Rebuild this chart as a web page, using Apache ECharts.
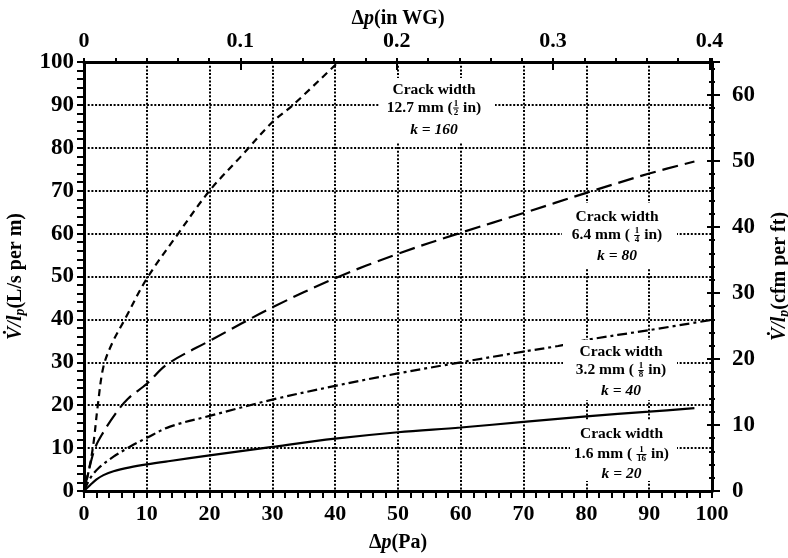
<!DOCTYPE html>
<html><head><meta charset="utf-8">
<script src="https://cdn.jsdelivr.net/npm/echarts@6/dist/echarts.min.js"></script>
<style>html,body{margin:0;padding:0;background:#fff}#c{width:788px;height:558px}</style>
</head><body><div id="c"></div>
<script>
// ---- data ----
const xTicksPa = [0,10,20,30,40,50,60,70,80,90,100];
const xTicksInWG = [0,0.1,0.2,0.3,0.4];
const yTicksLsm = [0,10,20,30,40,50,60,70,80,90,100];
const yTicksCfmFt = [0,10,20,30,40,50,60];

// k = 20 (1.6 mm crack) solid
const dp_k20 = [0, 1, 2, 3.1, 4.7, 7.3, 10, 13.7, 20, 30, 40, 50, 60, 70, 80, 90, 97.2];
const q_k20  = [0, 1.4, 2.7, 3.7, 4.6, 5.5, 6.2, 7.0, 8.3, 10.3, 12.2, 13.7, 14.8, 16.1, 17.4, 18.5, 19.3];
// k = 40 (3.2 mm crack) dash-dot
const dp_k40 = [0, 1, 2.3, 4.7, 7.3, 10, 13.7, 20, 30, 40, 50, 60, 70, 75.5, 80, 90, 100];
const q_k40  = [0, 3, 5.3, 8, 10.3, 12.4, 15, 17.5, 21.3, 24.5, 27.4, 30, 32.5, 33.8, 35.2, 37.5, 39.9];
// k = 80 (6.4 mm crack) long dash
const dp_k80 = [0, 0.8, 1.75, 3, 5, 7, 10, 13.2, 20, 30, 40, 50, 60, 70, 80, 90, 97.2];
const q_k80  = [0, 5, 10, 13.5, 18, 21.5, 25, 29.5, 35, 42.8, 49.6, 55.3, 60.2, 64.8, 69.5, 74, 76.8];
// k = 160 (12.7 mm crack) short dash
const dp_k160 = [0, 0.8, 1.5, 2.2, 3.1, 4.5, 6.5, 10, 15, 20, 25, 30, 33.3, 40.5];
const q_k160  = [0, 5, 11, 20, 29, 34.5, 40, 49.5, 60, 70, 78, 86, 90, 100];

const PA_PER_INWG = 249;
const RIGHT_MAX_CFM = 65;

// ---- chart ----
const SERIF = '"Liberation Serif", "Times New Roman", Times, serif';
const pairs = (xs, ys) => xs.map((x, i) => [x, ys[i]]);
const chart = echarts.init(document.getElementById('c'), null, {renderer: 'canvas'});

const lab = (size, margin, extra) => Object.assign({fontFamily: SERIF, fontWeight: 'bold', fontSize: size, color: '#000', margin: margin}, extra || {});
const axLine = {show: true, onZero: false, lineStyle: {color: '#000', width: 3}};
const noLine = {show: false, onZero: false};
const dotted = {show: true, lineStyle: {color: '#000', width: 2, type: [2, 1.7]}};
const nameStyle = {
  fontFamily: SERIF, fontWeight: 'bold', fontSize: 20, color: '#000',
  rich: {
    a: {fontFamily: SERIF, fontWeight: 'bold', fontSize: 20, color: '#000'},
    i: {fontFamily: SERIF, fontWeight: 'bold', fontStyle: 'italic', fontSize: 20, color: '#000'},
    s: {fontFamily: SERIF, fontWeight: 'bold', fontStyle: 'italic', fontSize: 14, color: '#000', padding: [9, 0, 0, 0]}
  }
};

const series = [
  {d: pairs(dp_k20, q_k20), type: 'solid'},
  {d: pairs(dp_k40, q_k40), type: [10, 4, 3, 4]},
  {d: pairs(dp_k80, q_k80), type: [16, 7]},
  {d: pairs(dp_k160, q_k160), type: [7, 5]}
].map(s => ({
  type: 'line', data: s.d, xAxisIndex: 0, yAxisIndex: 0, showSymbol: false, symbol: 'none',
  smooth: 0.35, clip: true, silent: true,
  lineStyle: {color: '#000', width: 2.2, type: s.type}, z: 3
}));

// ---- annotation boxes ----
const cv = document.createElement('canvas').getContext('2d');
function tw(t, size, fs) { cv.font = (fs || 'normal') + ' bold ' + size + 'px ' + SERIF; return cv.measureText(t).width; }
function txt(x, y, text, align, size, fs) {
  return {type: 'text', x: x, y: y, z: 60, silent: true,
    style: {text: text, fill: '#000', fontFamily: SERIF, fontWeight: 'bold', fontStyle: fs || 'normal', fontSize: size,
            textAlign: align, textVerticalAlign: 'middle', align: align, verticalAlign: 'middle'}};
}
const FS = 15.5, FFS = 9;
function annotation(cx, y1, y2, y3, box, pre, num, den, post, kText) {
  const els = [];
  els.push({type: 'rect', z: 55, silent: true, shape: {x: box[0], y: box[1], width: box[2] - box[0], height: box[3] - box[1]}, style: {fill: '#fff'}});
  els.push(txt(cx, y1, 'Crack width', 'center', FS));
  const wPre = tw(pre, FS), wPost = tw(post, FS), wF = Math.max(tw(num, FFS), tw(den, FFS)) + 2;
  const x0 = cx - (wPre + wF + wPost) / 2;
  const fx = x0 + wPre + wF / 2;
  els.push(txt(x0, y2, pre, 'left', FS));
  els.push(txt(fx, y2 - 4, num, 'center', FFS));
  els.push({type: 'line', z: 60, silent: true, shape: {x1: fx - wF / 2 + 0.5, y1: y2 + 0.5, x2: fx + wF / 2 - 0.5, y2: y2 + 0.5}, style: {stroke: '#000', lineWidth: 1}});
  els.push(txt(fx, y2 + 5, den, 'center', FFS));
  els.push(txt(x0 + wPre + wF, y2, post, 'left', FS));
  els.push(txt(cx, y3, kText, 'center', FS, 'italic'));
  return els;
}
const graphics = [].concat(
  annotation(434, 90, 107.5, 130, [380, 78, 495, 143], '12.7 mm (', '1', '2', ' in)', 'k = 160'),
  annotation(617, 217, 235, 255.5, [562, 203, 677, 268], '6.4 mm ( ', '1', '4', ' in)', 'k = 80'),
  annotation(621, 351.7, 370, 390.5, [563, 340, 677, 400], '3.2 mm ( ', '1', '8', ' in)', 'k = 40'),
  annotation(621.5, 434, 454, 474, [570, 420, 677, 481], '1.6 mm ( ', '1', '16', ' in)', 'k = 20')
);

const gridBox = {left: 84, right: 76, top: 62, bottom: 67, containLabel: false, outerBoundsMode: 'none'};
const option = {
  animation: false,
  backgroundColor: '#fff',
  grid: [Object.assign({}, gridBox), Object.assign({}, gridBox)],
  xAxis: [
    {type: 'value', gridIndex: 0, position: 'bottom', min: xTicksPa[0], max: xTicksPa[xTicksPa.length - 1], interval: 10,
     axisLine: axLine,
     axisTick: {show: true, length: 7, inside: false, lineStyle: {color: '#000', width: 2}},
     minorTick: {show: true, splitNumber: 5, length: 7, lineStyle: {color: '#000', width: 2}},
     splitLine: dotted,
     axisLabel: lab(22, 12),
     name: '{a|Δ}{i|p}{a|(Pa)}', nameLocation: 'middle', nameGap: 42, nameMoveOverlap: false, nameTextStyle: nameStyle},
    {type: 'value', gridIndex: 0, position: 'top', min: 0, max: 100 / PA_PER_INWG, interval: 0.1,
     axisLine: axLine,
     axisTick: {show: true, length: 4, inside: false, lineStyle: {color: '#000', width: 2}},
     minorTick: {show: true, splitNumber: 5, length: 4, lineStyle: {color: '#000', width: 2}},
     splitLine: {show: false},
     axisLabel: lab(22, 10, {showMaxLabel: false, formatter: v => xTicksInWG.some(t => Math.abs(t - v) < 1e-6) ? String(Math.round(v * 10) / 10) : ''}),
     name: '{a|Δ}{i|p}{a|(in WG)}', nameLocation: 'middle', nameGap: 33, nameMoveOverlap: false, nameTextStyle: nameStyle},
    {type: 'value', gridIndex: 1, position: 'top', min: 0, max: 100 / PA_PER_INWG, interval: 0.1,
     axisLine: noLine, axisLabel: {show: false}, splitLine: {show: false},
     axisTick: {show: true, length: 8, inside: true, lineStyle: {color: '#000', width: 2}},
     minorTick: {show: false}}
  ],
  yAxis: [
    {type: 'value', gridIndex: 0, position: 'left', min: yTicksLsm[0], max: yTicksLsm[yTicksLsm.length - 1], interval: 10,
     axisLine: axLine,
     axisTick: {show: true, length: 7, inside: false, lineStyle: {color: '#000', width: 2}},
     minorTick: {show: true, splitNumber: 5, length: 7, lineStyle: {color: '#000', width: 2}},
     splitLine: dotted,
     axisLabel: lab(23, 10),
     name: '{i|V\u0307}{i|/}{i|l}{s|p}{a|(L/s per m)}', nameLocation: 'middle', nameGap: 57, nameMoveOverlap: false, nameTextStyle: nameStyle},
    {type: 'value', gridIndex: 0, position: 'right', min: 0, max: RIGHT_MAX_CFM, interval: 10,
     axisLine: axLine,
     axisTick: {show: true, length: 8, inside: false, lineStyle: {color: '#000', width: 2}},
     minorTick: {show: true, splitNumber: 5, length: 3, lineStyle: {color: '#000', width: 2}},
     splitLine: {show: false},
     axisLabel: lab(23, 20, {showMaxLabel: false, formatter: v => yTicksCfmFt.indexOf(v) >= 0 ? String(v) : ''}),
     name: '{i|V\u0307}{i|/}{i|l}{s|p}{a|(cfm per ft)}', nameLocation: 'middle', nameGap: 56, nameMoveOverlap: false, nameTextStyle: nameStyle},
    {type: 'value', gridIndex: 1, position: 'right', min: 0, max: RIGHT_MAX_CFM, interval: 10,
     axisLine: noLine, axisLabel: {show: false}, splitLine: {show: false},
     axisTick: {show: true, length: 5, inside: true, lineStyle: {color: '#000', width: 2}},
     minorTick: {show: true, splitNumber: 5, length: 3, lineStyle: {color: '#000', width: 2}}}
  ],
  series: series,
  graphic: {elements: graphics}
};
chart.setOption(option);
</script>
</body></html>
